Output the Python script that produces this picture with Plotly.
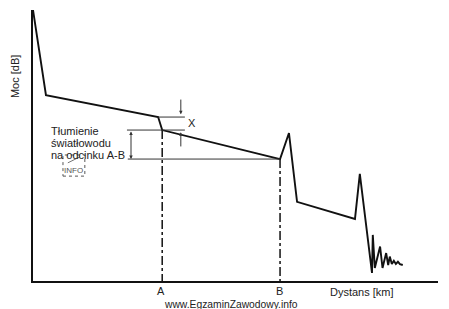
import plotly.graph_objects as go

# ---- data ----
dist = [0, 3.2, 30.9, 31.9, 61.0, 63.2, 65.2, 79.5, 80.7, 83.7, 83.9, 84.4, 85.7,
        86.3, 87.2, 87.7, 88.1, 88.6, 89.1, 89.6, 90.1, 90.6, 91.3]
power = [100, 68.6, 60.5, 55.7, 45.0, 54.6, 29.2, 22.9, 39.5, 3.0, 17.0, 4.8, 12.7,
         4.8, 10.3, 5.9, 9.0, 6.3, 7.5, 6.3, 7.1, 6.2, 5.9]

point_names = ["A", "B"]
point_dist = [31.9, 61.0]
point_power = [55.7, 45.0]

splice_top = 60.5          # level before the splice step (X)
splice_bottom = 55.7       # level after the splice step
label_lines = ["Tłumienie", "światłowodu", "na odcinku A-B"]
x_label = "Dystans [km]"
y_label = "Moc [dB]"
watermark = "www.EgzaminZawodowy.info"

LINE = "#111111"
THIN = "#333333"
TXT = "#222222"
FONT = "Liberation Sans, Arial, sans-serif"
XMAX, YMAX = 100.0, 100.0

fig = go.Figure()
fig.add_trace(go.Scatter(x=dist, y=power, mode="lines",
                         line=dict(color=LINE, width=1.9), hoverinfo="skip",
                         showlegend=False))

shapes = []
for xd, yd in zip(point_dist, point_power):
    shapes.append(dict(type="line", xref="x", yref="y", x0=xd, x1=xd, y0=yd, y1=0,
                       line=dict(color=LINE, width=1.5, dash="dashdot")))
shapes.append(dict(type="line", xref="x", yref="y", x0=point_dist[0] - 1.0, x1=37.5,
                   y0=splice_top, y1=splice_top, line=dict(color=THIN, width=1)))
shapes.append(dict(type="line", xref="x", yref="y", x0=23.2, x1=37.5,
                   y0=splice_bottom, y1=splice_bottom, line=dict(color=THIN, width=1)))
shapes.append(dict(type="line", xref="x", yref="y", x0=23.4, x1=point_dist[1],
                   y0=point_power[1], y1=point_power[1], line=dict(color=THIN, width=1)))
# small dotted logo box
shapes.append(dict(type="rect", xref="x", yref="y", x0=7.4, x1=12.8, y0=38.7, y1=46.5,
                   line=dict(color="#555555", width=1, dash="dot")))
shapes.append(dict(type="line", xref="x", yref="y", x0=8.6, x1=11.6, y0=43.6, y1=45.8,
                   line=dict(color="#777777", width=1)))

annotations = []
annotations.append(dict(x=24.2, y=point_power[1], ax=24.2, ay=splice_bottom,
                        xref="x", yref="y", axref="x", ayref="y", text="",
                        showarrow=True, arrowhead=2, arrowside="end+start",
                        arrowsize=0.7, arrowwidth=1, arrowcolor=THIN))
annotations.append(dict(x=36.5, y=splice_top + 1.0, ax=36.5, ay=67.5,
                        xref="x", yref="y", axref="x", ayref="y", text="",
                        showarrow=True, arrowhead=2, arrowsize=0.7, arrowwidth=1,
                        arrowcolor=THIN))
annotations.append(dict(x=36.5, y=splice_bottom - 0.8, ax=36.5, ay=49.1,
                        xref="x", yref="y", axref="x", ayref="y", text="",
                        showarrow=True, arrowhead=2, arrowsize=0.7, arrowwidth=1,
                        arrowcolor=THIN))
annotations.append(dict(x=39.3, y=58.3, text="X", xref="x", yref="y", showarrow=False,
                        xanchor="center", yanchor="middle",
                        font=dict(size=11, color=TXT, family=FONT)))
for t, yy in zip(label_lines, [55.4, 50.9, 46.5]):
    annotations.append(dict(x=4.0, y=yy, text=t, xref="x", yref="y", xanchor="left",
                            yanchor="middle", showarrow=False,
                            font=dict(size=11, color=TXT, family=FONT)))
annotations.append(dict(x=10.1, y=40.6, text="INFO", xref="x", yref="y",
                        xanchor="center", yanchor="middle",
                        showarrow=False, font=dict(size=8, color="#555555", family=FONT)))


def paper(xd, yd):
    return xd / XMAX, yd / YMAX


def outer_text(xd, yd, text, size=11, angle=0):
    px, py = paper(xd, yd)
    return dict(x=px, y=py, text=text, xref="paper", yref="paper", showarrow=False,
                xanchor="center", yanchor="middle", textangle=angle, borderpad=0,
                font=dict(size=size, color=TXT, family=FONT))


for n, xd in zip(point_names, point_dist):
    annotations.append(outer_text(xd - 0.2, -3.8, n))
annotations.append(outer_text(81.2, -4.0, x_label))
annotations.append(outer_text(49.0, -8.6, watermark, size=10.3))
annotations.append(outer_text(-4.4, 75.3, y_label, angle=-90))

fig.update_layout(
    width=449, height=309,
    margin=dict(l=33, r=11, t=10, b=28),
    paper_bgcolor="white", plot_bgcolor="white",
    shapes=shapes, annotations=annotations,
    xaxis=dict(range=[0, XMAX], showgrid=False, zeroline=False, showticklabels=False,
               ticks="", showline=True, linecolor=LINE, linewidth=1.5, fixedrange=True),
    yaxis=dict(range=[0, YMAX], showgrid=False, zeroline=False, showticklabels=False,
               ticks="", showline=True, linecolor=LINE, linewidth=1.5, fixedrange=True),
)
fig.write_html("out.html", config={"displayModeBar": False})
